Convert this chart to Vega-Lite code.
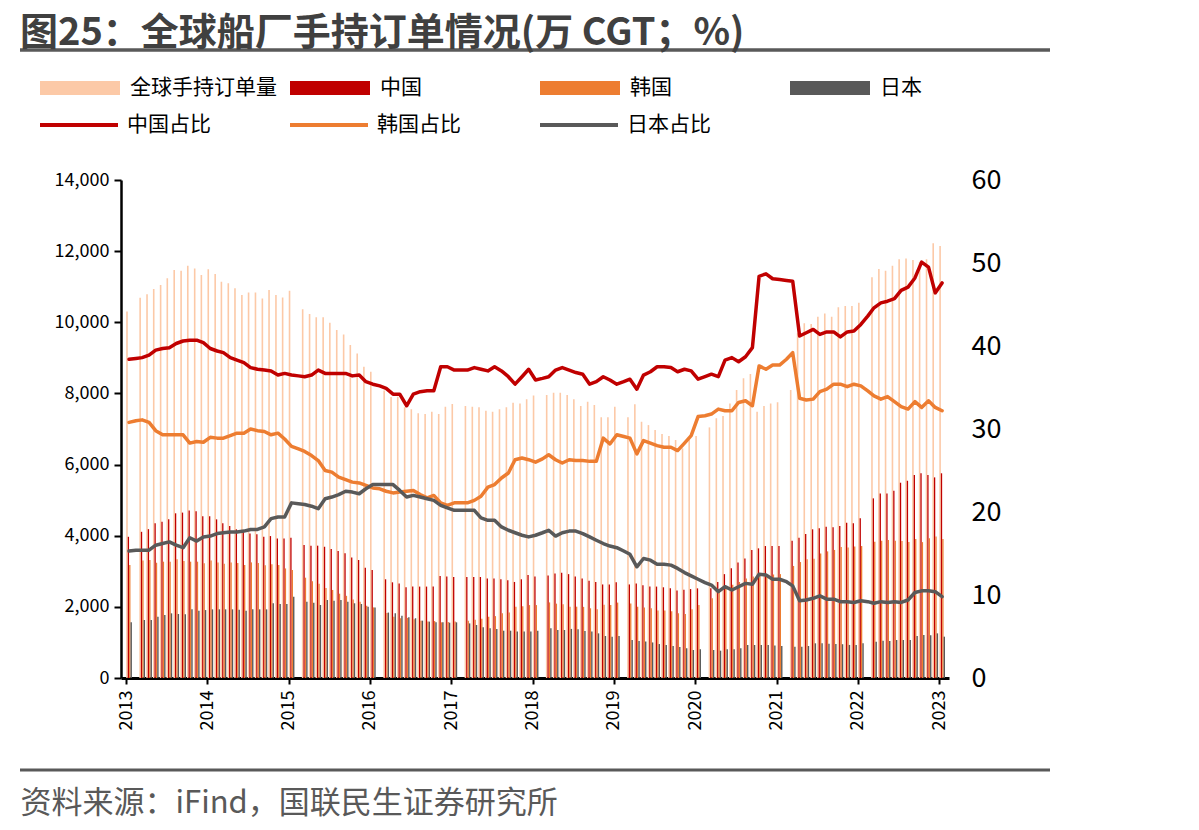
{
  "$schema": "https://vega.github.io/schema/vega-lite/v6.json",
  "width": 828,
  "height": 498,
  "autosize": {"type": "none"},
  "padding": {"left": 121, "top": 180, "right": 250, "bottom": 152},
  "background": "white",
  "config": {
    "font": "Noto Sans CJK SC",
    "view": {"stroke": null},
    "axis": {"labelFont": "Noto Sans CJK SC", "labelColor": "#000000", "domainColor": "#000000", "tickColor": "#000000", "grid": false}
  },
  "title": {
    "text": "图25：全球船厂手持订单情况(万 CGT；%)",
    "anchor": "start",
    "frame": "group",
    "dx": -101,
    "dy": 39,
    "offset": 4,
    "baseline": "alphabetic",
    "fontSize": 38,
    "fontWeight": "bold",
    "color": "#404040"
  },
  "datasets": {
    "m": [
      {"d":"2013-01-01","g":10300,"c":3970,"k":3175,"j":1565,"cs":38.4,"ks":30.8,"js":15.3},
      {"d":"2013-02-01","cs":38.5,"ks":31.0,"js":15.4},
      {"d":"2013-03-01","g":10690,"c":4110,"k":3300,"j":1630,"cs":38.6,"ks":31.1,"js":15.4},
      {"d":"2013-04-01","g":10785,"c":4185,"k":3317,"j":1630,"cs":38.9,"ks":30.8,"js":15.4},
      {"d":"2013-05-01","g":10935,"c":4350,"k":3240,"j":1725,"cs":39.5,"ks":29.8,"js":16.0},
      {"d":"2013-06-01","g":11050,"c":4395,"k":3270,"j":1770,"cs":39.7,"ks":29.3,"js":16.2},
      {"d":"2013-07-01","g":11235,"c":4465,"k":3270,"j":1818,"cs":39.8,"ks":29.3,"js":16.4},
      {"d":"2013-08-01","g":11470,"c":4630,"k":3335,"j":1800,"cs":40.3,"ks":29.3,"js":16.0},
      {"d":"2013-09-01","g":11450,"c":4650,"k":3290,"j":1790,"cs":40.6,"ks":29.3,"js":15.7},
      {"d":"2013-10-01","g":11590,"c":4710,"k":3270,"j":1930,"cs":40.7,"ks":28.3,"js":16.9},
      {"d":"2013-11-01","g":11515,"c":4690,"k":3270,"j":1893,"cs":40.7,"ks":28.5,"js":16.5},
      {"d":"2013-12-01","g":11330,"c":4545,"k":3225,"j":1910,"cs":40.4,"ks":28.4,"js":17.0},
      {"d":"2014-01-01","g":11490,"c":4545,"k":3300,"j":1930,"cs":39.7,"ks":29.0,"js":17.1},
      {"d":"2014-02-01","g":11357,"c":4460,"k":3250,"j":1930,"cs":39.4,"ks":28.9,"js":17.4},
      {"d":"2014-03-01","g":11140,"c":4350,"k":3210,"j":1930,"cs":39.2,"ks":28.9,"js":17.5},
      {"d":"2014-04-01","g":11095,"c":4272,"k":3250,"j":1930,"cs":38.6,"ks":29.2,"js":17.6},
      {"d":"2014-05-01","g":10955,"c":4180,"k":3230,"j":1920,"cs":38.3,"ks":29.5,"js":17.6},
      {"d":"2014-06-01","g":10765,"c":4140,"k":3180,"j":1893,"cs":38.0,"ks":29.5,"js":17.7},
      {"d":"2014-07-01","g":10840,"c":4065,"k":3250,"j":1930,"cs":37.4,"ks":30.0,"js":17.9},
      {"d":"2014-08-01","g":10840,"c":4040,"k":3230,"j":1930,"cs":37.2,"ks":29.8,"js":17.9},
      {"d":"2014-09-01","g":10670,"c":3970,"k":3170,"j":1930,"cs":37.1,"ks":29.7,"js":18.2},
      {"d":"2014-10-01","g":10905,"c":3990,"k":3195,"j":2100,"cs":37.0,"ks":29.3,"js":19.2},
      {"d":"2014-11-01","g":10765,"c":3925,"k":3175,"j":2080,"cs":36.5,"ks":29.5,"js":19.4},
      {"d":"2014-12-01","g":10700,"c":3925,"k":3080,"j":2080,"cs":36.7,"ks":28.8,"js":19.4},
      {"d":"2015-01-01","g":10890,"c":3945,"k":3035,"j":2285,"cs":36.5,"ks":27.9,"js":21.1},
      {"d":"2015-02-01","cs":36.4,"ks":27.6,"js":21.0},
      {"d":"2015-03-01","g":10365,"c":3740,"k":2820,"j":2145,"cs":36.3,"ks":27.3,"js":20.9},
      {"d":"2015-04-01","g":10230,"c":3720,"k":2720,"j":2117,"cs":36.5,"ks":26.8,"js":20.7},
      {"d":"2015-05-01","g":10140,"c":3720,"k":2650,"j":2052,"cs":37.1,"ks":26.2,"js":20.4},
      {"d":"2015-06-01","g":10140,"c":3690,"k":2530,"j":2193,"cs":36.7,"ks":25.0,"js":21.6},
      {"d":"2015-07-01","g":9990,"c":3625,"k":2475,"j":2175,"cs":36.7,"ks":24.8,"js":21.8},
      {"d":"2015-08-01","g":9780,"c":3570,"k":2370,"j":2193,"cs":36.7,"ks":24.2,"js":22.1},
      {"d":"2015-09-01","g":9660,"c":3505,"k":2310,"j":2145,"cs":36.7,"ks":23.9,"js":22.5},
      {"d":"2015-10-01","g":9360,"c":3390,"k":2210,"j":2100,"cs":36.4,"ks":23.6,"js":22.4},
      {"d":"2015-11-01","g":9125,"c":3317,"k":2145,"j":2080,"cs":36.5,"ks":23.5,"js":22.2},
      {"d":"2015-12-01","g":8750,"c":3100,"k":2030,"j":2005,"cs":35.7,"ks":23.2,"js":22.8},
      {"d":"2016-01-01","g":8610,"c":3035,"k":1985,"j":1985,"cs":35.4,"ks":22.9,"js":23.3},
      {"d":"2016-02-01","cs":35.2,"ks":22.8,"js":23.3},
      {"d":"2016-03-01","g":8085,"c":2775,"k":1830,"j":1840,"cs":34.9,"ks":22.5,"js":23.3},
      {"d":"2016-04-01","g":7900,"c":2690,"k":1725,"j":1818,"cs":34.2,"ks":22.3,"js":23.3},
      {"d":"2016-05-01","g":7910,"c":2660,"k":1680,"j":1750,"cs":34.2,"ks":22.4,"js":22.6},
      {"d":"2016-06-01","g":7610,"c":2550,"k":1690,"j":1705,"cs":32.8,"ks":22.5,"js":21.8},
      {"d":"2016-07-01","g":7555,"c":2570,"k":1650,"j":1680,"cs":34.2,"ks":22.6,"js":22.0},
      {"d":"2016-08-01","g":7440,"c":2570,"k":1610,"j":1612,"cs":34.5,"ks":22.1,"js":21.8},
      {"d":"2016-09-01","g":7420,"c":2570,"k":1585,"j":1585,"cs":34.6,"ks":21.7,"js":21.6},
      {"d":"2016-10-01","g":7485,"c":2570,"k":1600,"j":1565,"cs":34.6,"ks":22.0,"js":21.4},
      {"d":"2016-11-01","g":7420,"c":2867,"k":1565,"j":1565,"cs":37.5,"ks":21.1,"js":20.8},
      {"d":"2016-12-01","g":7625,"c":2850,"k":1575,"j":1555,"cs":37.5,"ks":20.8,"js":20.5},
      {"d":"2017-01-01","g":7700,"c":2840,"k":1585,"j":1565,"cs":37.1,"ks":21.1,"js":20.2},
      {"d":"2017-02-01","cs":37.1,"ks":21.1,"js":20.2},
      {"d":"2017-03-01","g":7645,"c":2840,"k":1610,"j":1535,"cs":37.1,"ks":21.1,"js":20.2},
      {"d":"2017-04-01","g":7625,"c":2840,"k":1635,"j":1490,"cs":37.4,"ks":21.4,"js":20.2},
      {"d":"2017-05-01","g":7610,"c":2840,"k":1665,"j":1425,"cs":37.2,"ks":21.9,"js":19.3},
      {"d":"2017-06-01","g":7515,"c":2800,"k":1725,"j":1400,"cs":37.0,"ks":23.0,"js":19.0},
      {"d":"2017-07-01","g":7485,"c":2800,"k":1740,"j":1380,"cs":37.5,"ks":23.3,"js":19.0},
      {"d":"2017-08-01","g":7555,"c":2775,"k":1820,"j":1330,"cs":37.0,"ks":24.1,"js":18.2},
      {"d":"2017-09-01","g":7610,"c":2750,"k":1840,"j":1330,"cs":36.3,"ks":24.7,"js":17.8},
      {"d":"2017-10-01","g":7740,"c":2700,"k":2005,"j":1310,"cs":35.4,"ks":26.3,"js":17.5},
      {"d":"2017-11-01","g":7720,"c":2775,"k":2020,"j":1310,"cs":36.3,"ks":26.5,"js":17.2},
      {"d":"2017-12-01","g":7835,"c":2895,"k":2050,"j":1310,"cs":37.2,"ks":26.3,"js":17.0},
      {"d":"2018-01-01","g":7945,"c":2850,"k":2050,"j":1330,"cs":35.9,"ks":26.0,"js":17.2},
      {"d":"2018-02-01","cs":36.1,"ks":26.4,"js":17.5},
      {"d":"2018-03-01","g":7955,"c":2880,"k":2125,"j":1400,"cs":36.3,"ks":26.9,"js":17.8},
      {"d":"2018-04-01","g":8020,"c":2940,"k":2090,"j":1350,"cs":37.1,"ks":26.3,"js":17.1},
      {"d":"2018-05-01","g":8020,"c":2960,"k":2070,"j":1350,"cs":37.4,"ks":25.9,"js":17.5},
      {"d":"2018-06-01","g":7955,"c":2920,"k":2000,"j":1380,"cs":37.1,"ks":26.3,"js":17.7},
      {"d":"2018-07-01","g":7835,"c":2850,"k":2005,"j":1370,"cs":36.8,"ks":26.2,"js":17.7},
      {"d":"2018-08-01","g":7645,"c":2800,"k":2000,"j":1320,"cs":36.6,"ks":26.2,"js":17.4},
      {"d":"2018-09-01","g":7765,"c":2735,"k":1960,"j":1310,"cs":35.4,"ks":26.1,"js":17.0},
      {"d":"2018-10-01","g":7675,"c":2700,"k":1930,"j":1255,"cs":35.7,"ks":26.1,"js":16.6},
      {"d":"2018-11-01","g":7330,"c":2630,"k":2060,"j":1180,"cs":36.3,"ks":28.9,"js":16.2},
      {"d":"2018-12-01","g":7330,"c":2630,"k":2050,"j":1160,"cs":35.9,"ks":28.2,"js":15.9},
      {"d":"2019-01-01","g":7625,"c":2690,"k":2120,"j":1180,"cs":35.4,"ks":29.3,"js":15.7},
      {"d":"2019-02-01","cs":35.7,"ks":29.1,"js":15.3},
      {"d":"2019-03-01","g":7330,"c":2630,"k":2095,"j":1070,"cs":36.0,"ks":28.9,"js":14.9},
      {"d":"2019-04-01","g":7695,"c":2660,"k":2005,"j":1040,"cs":34.8,"ks":27.0,"js":13.4},
      {"d":"2019-05-01","g":7205,"c":2605,"k":1985,"j":1025,"cs":36.5,"ks":28.6,"js":14.4},
      {"d":"2019-06-01","g":7110,"c":2575,"k":1960,"j":1000,"cs":36.9,"ks":28.3,"js":14.2},
      {"d":"2019-07-01","g":6970,"c":2570,"k":1900,"j":955,"cs":37.5,"ks":28.0,"js":13.7},
      {"d":"2019-08-01","g":6860,"c":2550,"k":1900,"j":930,"cs":37.5,"ks":27.8,"js":13.7},
      {"d":"2019-09-01","g":6800,"c":2520,"k":1880,"j":900,"cs":37.4,"ks":27.8,"js":13.6},
      {"d":"2019-10-01","g":6690,"c":2460,"k":1820,"j":870,"cs":36.9,"ks":27.4,"js":13.2},
      {"d":"2019-11-01","g":6455,"c":2480,"k":1800,"j":834,"cs":37.2,"ks":28.3,"js":12.7},
      {"d":"2019-12-01","g":6690,"c":2500,"k":1930,"j":787,"cs":37.0,"ks":29.2,"js":12.3},
      {"d":"2020-01-01","g":6800,"c":2520,"k":2050,"j":806,"cs":36.0,"ks":31.5,"js":11.9},
      {"d":"2020-02-01","cs":36.3,"ks":31.6,"js":11.5},
      {"d":"2020-03-01","g":7045,"c":2520,"k":2240,"j":787,"cs":36.6,"ks":31.8,"js":11.2},
      {"d":"2020-04-01","g":7300,"c":2700,"k":2450,"j":768,"cs":36.3,"ks":32.4,"js":10.4},
      {"d":"2020-05-01","g":7365,"c":2920,"k":2500,"j":806,"cs":38.3,"ks":32.2,"js":11.0},
      {"d":"2020-06-01","g":7720,"c":3083,"k":2620,"j":806,"cs":38.6,"ks":32.2,"js":10.6},
      {"d":"2020-07-01","g":8095,"c":3250,"k":2700,"j":834,"cs":38.1,"ks":33.2,"js":11.0},
      {"d":"2020-08-01","g":8425,"c":3360,"k":2800,"j":928,"cs":38.7,"ks":33.4,"js":11.4},
      {"d":"2020-09-01","g":8545,"c":3600,"k":2850,"j":928,"cs":39.8,"ks":32.8,"js":11.3},
      {"d":"2020-10-01","g":7485,"c":3645,"k":2900,"j":928,"cs":48.4,"ks":37.6,"js":12.5},
      {"d":"2020-11-01","g":7645,"c":3710,"k":2880,"j":928,"cs":48.7,"ks":37.2,"js":12.4},
      {"d":"2020-12-01","g":7720,"c":3710,"k":2910,"j":915,"cs":48.1,"ks":37.7,"js":11.9},
      {"d":"2021-01-01","g":7750,"c":3710,"k":2920,"j":900,"cs":48.0,"ks":37.7,"js":11.9},
      {"d":"2021-02-01","cs":47.9,"ks":38.4,"js":11.6},
      {"d":"2021-03-01","g":8095,"c":3860,"k":3150,"j":880,"cs":47.8,"ks":39.2,"js":11.1},
      {"d":"2021-04-01","g":9690,"c":3945,"k":3260,"j":880,"cs":41.2,"ks":33.7,"js":9.3},
      {"d":"2021-05-01","g":9970,"c":4050,"k":3340,"j":900,"cs":41.6,"ks":33.5,"js":9.4},
      {"d":"2021-06-01","g":9950,"c":4180,"k":3350,"j":975,"cs":42.0,"ks":33.6,"js":9.6},
      {"d":"2021-07-01","g":10155,"c":4210,"k":3500,"j":975,"cs":41.4,"ks":34.5,"js":9.9},
      {"d":"2021-08-01","g":10250,"c":4255,"k":3560,"j":965,"cs":41.7,"ks":34.8,"js":9.5},
      {"d":"2021-09-01","g":10155,"c":4240,"k":3600,"j":955,"cs":41.7,"ks":35.4,"js":9.5},
      {"d":"2021-10-01","g":10420,"c":4272,"k":3680,"j":950,"cs":41.1,"ks":35.4,"js":9.2},
      {"d":"2021-11-01","g":10455,"c":4365,"k":3670,"j":930,"cs":41.7,"ks":35.1,"js":9.2},
      {"d":"2021-12-01","g":10455,"c":4350,"k":3700,"j":930,"cs":41.8,"ks":35.4,"js":9.1},
      {"d":"2022-01-01","g":10550,"c":4490,"k":3710,"j":975,"cs":42.6,"ks":35.2,"js":9.3},
      {"d":"2022-02-01","cs":43.6,"ks":34.6,"js":9.2},
      {"d":"2022-03-01","g":11265,"c":5050,"k":3830,"j":1020,"cs":44.6,"ks":34.0,"js":9.0},
      {"d":"2022-04-01","g":11495,"c":5190,"k":3860,"j":1050,"cs":45.2,"ks":33.6,"js":9.2},
      {"d":"2022-05-01","g":11450,"c":5190,"k":3880,"j":1040,"cs":45.4,"ks":33.9,"js":9.1},
      {"d":"2022-06-01","g":11590,"c":5265,"k":3860,"j":1068,"cs":45.7,"ks":33.3,"js":9.2},
      {"d":"2022-07-01","g":11770,"c":5490,"k":3850,"j":1068,"cs":46.7,"ks":32.7,"js":9.1},
      {"d":"2022-08-01","g":11795,"c":5545,"k":3820,"j":1068,"cs":47.1,"ks":32.4,"js":9.4},
      {"d":"2022-09-01","g":11750,"c":5705,"k":3910,"j":1180,"cs":48.2,"ks":33.3,"js":10.3},
      {"d":"2022-10-01","g":11700,"c":5755,"k":3820,"j":1210,"cs":50.1,"ks":32.6,"js":10.5},
      {"d":"2022-11-01","g":11770,"c":5705,"k":3930,"j":1200,"cs":49.5,"ks":33.4,"js":10.5},
      {"d":"2022-12-01","g":12220,"c":5640,"k":3980,"j":1255,"cs":46.4,"ks":32.6,"js":10.4},
      {"d":"2023-01-01","g":12145,"c":5755,"k":3910,"j":1162,"cs":47.6,"ks":32.2,"js":9.8}
    ]
  },
  "data": {"name": "m"},
  "encoding": {
    "x": {
      "field": "d",
      "type": "temporal",
      "scale": {"type": "utc", "domain": [{"year": 2013, "month": 1, "date": 1, "utc": true}, {"year": 2023, "month": 1, "date": 23, "utc": true}]},
      "axis": {
        "format": "%Y",
        "tickCount": {"interval": "year", "step": 1},
        "labelAngle": -90,
        "labelAlign": "right",
        "labelBaseline": "middle",
        "labelFontSize": 18,
        "labelPadding": 6,
        "labelOverlap": false,
        "labelFlush": false,
        "tickSize": 6,
        "tickWidth": 2,
        "domainWidth": 3,
        "title": "资料来源：iFind，国联民生证券研究所",
        "titleX": -101,
        "titleY": 134,
        "titleAngle": 0,
        "titleAlign": "left",
        "titleAnchor": "start",
        "titleBaseline": "alphabetic",
        "titleFontSize": 31,
        "titleFontWeight": "normal",
        "titleColor": "#595959"
      }
    }
  },
  "layer": [
    {
      "layer": [
        {
          "mark": {"type": "bar", "width": 1.6, "xOffset": 1.0},
          "encoding": {
            "y": {
              "field": "g",
              "type": "quantitative",
              "scale": {"domain": [0, 14000], "nice": false},
              "axis": {"title": null, "values": [0, 2000, 4000, 6000, 8000, 10000, 12000, 14000], "labelExpr": "format(datum.value, ',')", "labelFontSize": 18, "labelPadding": 5, "tickSize": 7, "tickWidth": 2, "domainWidth": 2.5}
            },
            "fill": {
              "datum": "全球手持订单量",
              "type": "nominal",
              "scale": {"domain": ["全球手持订单量", "中国", "韩国", "日本"], "range": ["#FCC9A7", "#C00000", "#ED7D31", "#595959"]},
              "legend": {
                "orient": "none",
                "legendX": -81,
                "legendY": -132,
                "direction": "horizontal",
                "columns": 4,
                "gridAlign": "all",
                "columnPadding": 13,
                "padding": 0,
                "title": null,
                "symbolType": "M-1,-0.175H1V0.175H-1Z",
                "symbolSize": 6400,
                "symbolStrokeWidth": 0,
                "labelFontSize": 21,
                "labelOffset": 10,
                "labelColor": "#000000"
              }
            }
          }
        },
        {
          "mark": {"type": "bar", "width": 1.3, "xOffset": 2.4},
          "encoding": {
            "y": {"field": "c", "type": "quantitative", "axis": {"title": null, "values": [0, 2000, 4000, 6000, 8000, 10000, 12000, 14000], "labelExpr": "format(datum.value, ',')", "labelFontSize": 18, "labelPadding": 5, "tickSize": 7, "tickWidth": 2, "domainWidth": 2.5}},
            "fill": {"datum": "中国", "type": "nominal"}
          }
        },
        {
          "mark": {"type": "bar", "width": 1.3, "xOffset": 3.8},
          "encoding": {
            "y": {"field": "k", "type": "quantitative", "axis": {"title": null, "values": [0, 2000, 4000, 6000, 8000, 10000, 12000, 14000], "labelExpr": "format(datum.value, ',')", "labelFontSize": 18, "labelPadding": 5, "tickSize": 7, "tickWidth": 2, "domainWidth": 2.5}},
            "fill": {"datum": "韩国", "type": "nominal"}
          }
        },
        {
          "mark": {"type": "bar", "width": 1.4, "xOffset": 5.2},
          "encoding": {
            "y": {"field": "j", "type": "quantitative", "axis": {"title": null, "values": [0, 2000, 4000, 6000, 8000, 10000, 12000, 14000], "labelExpr": "format(datum.value, ',')", "labelFontSize": 18, "labelPadding": 5, "tickSize": 7, "tickWidth": 2, "domainWidth": 2.5}},
            "fill": {"datum": "日本", "type": "nominal"}
          }
        }
      ]
    },
    {
      "layer": [
        {
          "mark": {"type": "line", "strokeWidth": 3.5, "xOffset": 3, "strokeJoin": "round", "strokeCap": "round"},
          "encoding": {
            "y": {
              "field": "cs",
              "type": "quantitative",
              "scale": {"domain": [0, 60], "nice": false},
              "axis": {"orient": "right", "title": null, "values": [0, 10, 20, 30, 40, 50, 60], "labelFontSize": 27, "domain": false, "ticks": false, "labelPadding": 22}
            },
            "stroke": {
              "datum": "中国占比",
              "type": "nominal",
              "scale": {"domain": ["中国占比", "韩国占比", "日本占比"], "range": ["#C00000", "#ED7D31", "#595959"]},
              "legend": {
                "orient": "none",
                "legendX": -83,
                "legendY": -96,
                "direction": "horizontal",
                "columns": 3,
                "gridAlign": "all",
                "columnPadding": 71,
                "padding": 0,
                "title": null,
                "symbolType": "stroke",
                "symbolSize": 6084,
                "symbolStrokeWidth": 4,
                "labelFontSize": 21,
                "labelOffset": 7,
                "labelColor": "#000000"
              }
            }
          }
        },
        {
          "mark": {"type": "line", "strokeWidth": 3.5, "xOffset": 3, "strokeJoin": "round", "strokeCap": "round"},
          "encoding": {"y": {"field": "ks", "type": "quantitative"}, "stroke": {"datum": "韩国占比", "type": "nominal"}}
        },
        {
          "mark": {"type": "line", "strokeWidth": 3.5, "xOffset": 3, "strokeJoin": "round", "strokeCap": "round"},
          "encoding": {"y": {"field": "js", "type": "quantitative"}, "stroke": {"datum": "日本占比", "type": "nominal"}}
        }
      ]
    },
    {
      "data": {"values": [{}]},
      "mark": {"type": "rule", "color": "#595959", "strokeWidth": 3.5},
      "encoding": {"x": {"value": -101}, "x2": {"value": 929}, "y": {"value": -130}}
    },
    {
      "data": {"values": [{}]},
      "mark": {"type": "rule", "color": "#595959", "strokeWidth": 3},
      "encoding": {"x": {"value": -101}, "x2": {"value": 929}, "y": {"value": 590}}
    }
  ],
  "resolve": {"scale": {"y": "independent"}}
}
